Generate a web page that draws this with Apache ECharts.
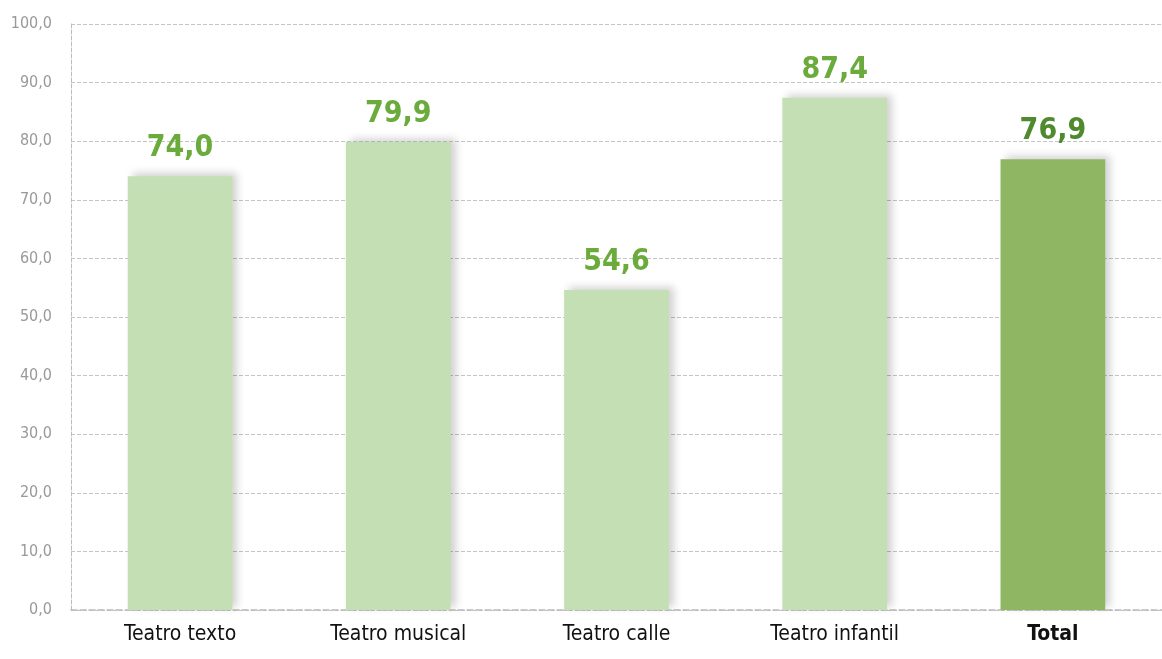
<!DOCTYPE html>
<html>
<head>
<meta charset="utf-8">
<script src="https://cdn.jsdelivr.net/npm/echarts@6/dist/echarts.min.js"></script>
<style>
    html, body { margin: 0; padding: 0; background: #fff; }
    #chart { width: 1162px; height: 659px; }
</style>
</head>
<body>
<div id="chart"></div>
<script>
    var categories = ['Teatro texto', 'Teatro musical', 'Teatro calle', 'Teatro infantil', 'Total'];
    var values = [74.0, 79.9, 54.6, 87.4, 76.9];
    var yTicks = [0, 10, 20, 30, 40, 50, 60, 70, 80, 90, 100];

    var FONT = "'DejaVu Sans Condensed', 'Roboto', sans-serif";
    var fmt = function (v) { return v.toFixed(1).replace('.', ','); };

    var chart = echarts.init(document.getElementById('chart'));

    var data = values.map(function (v, i) {
        var total = categories[i] === 'Total';
        return {
            value: v,
            itemStyle: { color: total ? '#8fb663' : '#c5dfb4' },
            label: { color: total ? '#4f8a2f' : '#6aab3b' }
        };
    });

    chart.setOption({
        animation: false,
        grid: { left: 71, width: 1099, top: 24, bottom: 49 },
        xAxis: {
            type: 'category',
            data: categories,
            axisLine: { show: true, lineStyle: { color: '#bbbbbb', type: 'dashed', width: 1.5 } },
            axisTick: { show: false },
            axisLabel: {
                margin: 14,
                fontFamily: FONT,
                fontSize: 21,
                color: '#111',
                formatter: function (v) { return v === 'Total' ? '{b|' + v + '}' : v; },
                rich: { b: { fontFamily: FONT, fontSize: 21, fontWeight: 'bold', color: '#111' } }
            }
        },
        yAxis: {
            type: 'value',
            min: yTicks[0],
            max: yTicks[yTicks.length - 1],
            interval: 10,
            axisLine: { show: true, lineStyle: { color: '#bbbbbb', type: 'dashed' } },
            axisTick: { show: false },
            axisLabel: {
                margin: 19,
                fontFamily: FONT,
                fontSize: 16,
                color: '#999999',
                formatter: function (v) { return fmt(v); }
            },
            splitLine: { lineStyle: { color: '#c4c4c4', type: 'dashed' } }
        },
        series: [{
            type: 'bar',
            data: data,
            barWidth: '48%',
            itemStyle: {
                shadowColor: 'rgba(0,0,0,0.18)',
                shadowBlur: 8,
                shadowOffsetX: 5,
                shadowOffsetY: -3
            },
            label: {
                show: true,
                position: 'top',
                distance: 13,
                fontFamily: FONT,
                fontSize: 30,
                fontWeight: 'bold',
                formatter: function (p) { return fmt(p.value); }
            }
        }]
    });
</script>
</body>
</html>
